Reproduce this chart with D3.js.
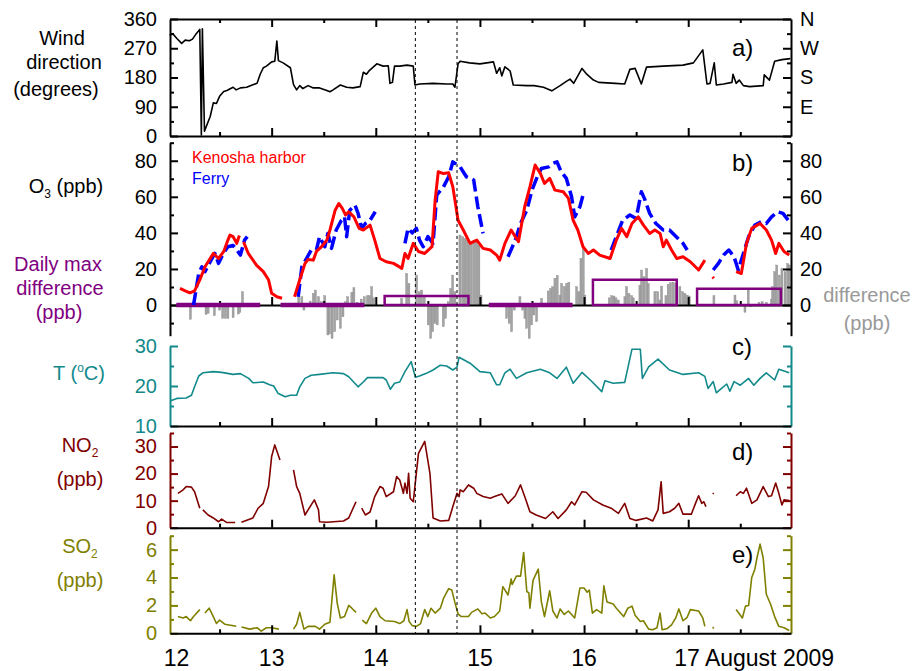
<!DOCTYPE html>
<html lang="en">
<head>
<meta charset="UTF-8">
<title>Kenosha O3, August 2009</title>
<script src="https://cdn.jsdelivr.net/npm/d3@7"></script>
<style>
    body { margin: 0; background: #fff; }
    svg text { font-family: "Liberation Sans", Arial, sans-serif; }
</style>
</head>
<body>
<div id="chart"></div>
<script>
// time in days of August 2009, null = gap in the record
const windDir = [[12.02,310],[12.05,315],[12.09,300],[12.136,285],[12.17,295],[12.21,293],[12.24,298],[12.27,312],[12.31,328],[12.325,3],[12.335,330],[12.355,15],[12.41,60],[12.44,102],[12.47,100],[12.50,122],[12.54,137],[12.57,140],[12.63,150],[12.66,142],[12.70,148],[12.76,150],[12.82,158],[12.86,162],[12.89,190],[12.92,210],[12.95,215],[13.0,228],[13.03,230],[13.05,292],[13.065,232],[13.11,225],[13.18,210],[13.21,158],[13.24,142],[13.27,155],[13.30,146],[13.35,155],[13.40,148],[13.46,148],[13.53,140],[13.56,136],[13.59,142],[13.66,157],[13.72,150],[13.78,148],[13.85,152],[13.88,196],[13.91,190],[13.94,202],[14.01,222],[14.07,215],[14.12,216],[14.136,162],[14.16,165],[14.18,215],[14.23,215],[14.30,218],[14.36,215],[14.376,157],[14.42,160],[14.55,162],[14.68,160],[14.74,160],[14.76,150],[14.79,222],[14.81,230],[14.90,225],[15.0,222],[15.13,228],[15.16,193],[15.19,210],[15.21,185],[15.24,213],[15.29,200],[15.32,157],[15.45,155],[15.52,155],[15.61,150],[15.69,139],[15.77,155],[15.83,168],[15.865,175],[15.90,162],[15.98,208],[16.02,192],[16.09,172],[16.14,165],[16.30,162],[16.39,160],[16.44,205],[16.49,208],[16.55,160],[16.60,212],[16.76,215],[16.95,218],[17.05,225],[17.14,265],[17.18,160],[17.21,162],[17.25,225],[17.27,157],[17.34,160],[17.42,165],[17.43,190],[17.46,162],[17.49,172],[17.53,155],[17.59,152],[17.72,155],[17.73,188],[17.78,172],[17.83,230],[17.90,235],[17.98,238]];

const o3Kenosha = [[12.12,9.2],[12.17,7.9],[12.215,6.8],[12.26,7.9],[12.31,13.9],[12.36,21.2],[12.39,24],[12.44,28.6],[12.49,25.8],[12.54,29.7],[12.58,36],[12.60,38.8],[12.63,37.9],[12.665,34.2],[12.69,38.5],[12.71,null],[12.73,35],[12.776,28.6],[12.856,22],[12.92,18.5],[12.97,14],[13.0,6.5],[13.05,4.6],[13.10,3.8],[13.15,null],[13.22,4.6],[13.27,14],[13.32,23],[13.35,25.3],[13.40,24.9],[13.43,29.7],[13.48,32.4],[13.53,36],[13.56,41.6],[13.61,52.6],[13.645,56.3],[13.68,53.5],[13.71,49.9],[13.74,51.7],[13.79,48.9],[13.84,42.5],[13.88,41.6],[13.945,44.3],[13.99,36],[14.04,25.8],[14.10,24],[14.17,23.1],[14.215,21.6],[14.25,20.3],[14.28,28.6],[14.31,25.8],[14.36,34.2],[14.41,29.7],[14.47,28.6],[14.54,32.4],[14.57,58.2],[14.60,73.9],[14.65,72.9],[14.70,73.3],[14.74,65.5],[14.79,47],[14.84,41.6],[14.905,34.2],[14.97,36],[15.03,31.4],[15.10,30.5],[15.16,27.7],[15.19,24.9],[15.24,34.2],[15.30,41.6],[15.37,35.1],[15.43,54.5],[15.48,65.5],[15.53,77.6],[15.58,73],[15.62,67.4],[15.67,70.2],[15.72,63.7],[15.80,62.8],[15.85,59.1],[15.895,47],[15.94,41.6],[15.99,32.3],[16.04,28.6],[16.09,30.5],[16.15,27.7],[16.25,25.8],[16.31,36],[16.36,42.5],[16.41,37.9],[16.46,45.2],[16.52,48.9],[16.57,44.3],[16.63,39.7],[16.68,41.6],[16.73,39.7],[16.76,32.3],[16.79,36],[16.84,30.5],[16.89,25.8],[16.95,26.8],[17.02,24],[17.10,19.4],[17.16,24.9],[17.18,null],[17.235,15.6],[17.245,14.8],[17.26,null],[17.46,18.5],[17.51,17.5],[17.56,34.2],[17.61,42.5],[17.69,45.2],[17.75,41.6],[17.80,36],[17.84,28.6],[17.87,34.2],[17.92,29.7],[17.97,27.7]];

const o3Ferry = [[12.25,0],[12.30,17.5],[12.33,21.2],[12.36,18.5],[12.41,24],[12.455,28.6],[12.49,23.1],[12.535,28.6],[12.58,32.3],[12.63,33],[12.66,31],[12.70,27.7],[12.74,36],[12.766,37.9],[12.8,null],[13.255,4.6],[13.29,21.2],[13.335,25.8],[13.38,30.5],[13.43,30.5],[13.46,37.9],[13.51,32.3],[13.54,39.7],[13.575,31.4],[13.62,41.6],[13.67,47],[13.70,48.9],[13.72,37.9],[13.75,52.6],[13.80,55.4],[13.83,50.8],[13.865,42.5],[13.90,45.2],[13.945,47],[13.995,51.7],[14.1,null],[14.28,34.2],[14.31,42.5],[14.35,40],[14.39,42.5],[14.42,36],[14.455,32.3],[14.50,37.9],[14.55,34.2],[14.585,61],[14.65,65.5],[14.70,71.1],[14.74,79.4],[14.81,76.6],[14.87,71.1],[14.94,69.3],[14.98,54.5],[15.03,39.7],[15.1,null],[15.27,26.8],[15.34,36],[15.39,45.2],[15.45,52.6],[15.50,63.7],[15.55,71.1],[15.59,75.7],[15.66,76.6],[15.70,78.5],[15.74,79.4],[15.78,73.9],[15.83,70.2],[15.88,60],[15.91,48.9],[15.96,54.5],[15.99,61],[16.1,null],[16.26,30.5],[16.31,37.9],[16.37,47],[16.44,49.9],[16.50,48],[16.55,62.8],[16.58,59],[16.63,50.8],[16.69,45.2],[16.76,41.6],[16.82,41.6],[16.885,37.9],[16.95,34.2],[16.99,30.5],[17.1,null],[17.24,19.4],[17.29,23.1],[17.34,27.7],[17.39,30.5],[17.44,26.8],[17.48,19.4],[17.53,28.6],[17.58,37.9],[17.64,44.3],[17.70,46.1],[17.75,45.2],[17.80,48.9],[17.86,51.7],[17.91,50.8],[17.96,47]];

// Kenosha minus ferry, grey bars
const diffTime = [12.22,12.25,12.37,12.39,12.45,12.50,12.53,12.555,12.58,12.63,12.68,12.695,12.72,
    13.26,13.29,13.31,13.37,13.40,13.42,13.45,13.48,13.51,13.54,13.555,13.58,13.605,13.63,13.66,13.685,13.71,13.73,13.77,13.79,13.82,13.86,13.89,13.92,13.94,13.96,13.98,
    14.248,14.296,14.318,14.392,14.417,14.44,14.465,14.504,14.527,14.546,14.568,14.59,14.648,14.67,14.696,14.719,14.738,14.76,14.808,14.834,14.856,14.878,14.897,14.92,14.945,14.968,14.99,15.01,
    15.256,15.281,15.304,15.33,15.384,15.41,15.432,15.448,15.473,15.496,15.518,15.544,15.592,15.656,15.679,15.698,15.72,15.742,15.768,15.784,15.81,15.832,15.854,15.928,15.95,15.97,15.992,16.008,
    16.242,16.265,16.287,16.306,16.328,16.392,16.408,16.43,16.456,16.472,16.536,16.552,16.575,16.6,16.616,16.68,16.706,16.728,16.744,16.786,16.808,16.831,16.856,16.882,16.92,16.946,16.968,16.99,17.01,
    17.247,17.449,17.465,17.545,17.576,17.6,17.68,17.71,17.75,17.80,17.81,17.83,17.85,17.875,17.90,17.93,17.955,17.97];
const diffValue = [-7.9,1.5,-5.2,-4.6,-5.9,-2.8,-7.4,-7.4,-7.4,-7,-5,-4,7.4,
    6.5,4.6,-2.8,2.2,6.5,8.3,4.6,1.8,5.2,-16.6,-16,-18.5,-14.8,-8.3,-12.9,-6.5,1.8,4.6,7,9.6,1.5,3.3,4.6,5.2,5.2,10.2,4,
    3.7,17.5,12,16.6,7.4,8.3,4.6,-11,-18.5,-14.8,-10.2,-11,-12,-7.4,1.8,9.2,16.6,7.4,38.8,37.9,36.9,36,33.2,35.1,36,36,33.2,5.5,
    -7.4,-10.2,-14.8,-2.8,4.6,-2.8,-7.4,-12.9,-18.5,-11,-5.5,-9.2,3.7,7.8,9.2,10.2,14.8,16.3,5.5,12,10.2,12,12.6,10.2,7.4,25.9,31.4,5.5,
    4,5.2,5,4,2.8,4.6,10.2,6.5,5.2,4,11,19.4,15.7,20.3,12,7.4,7.4,2.8,10.5,5.2,11.5,12.4,12.6,12,10.2,7.4,6.5,5.5,5,
    5.2,5.5,2.4,-4,8.3,-0.9,1.5,1.8,1.5,3.3,10.2,18.5,22.2,16.6,20.3,18.5,23,22.2];

const days = [12, 13, 14, 15, 16, 17];
const dailyMaxDiff = [0, 0, 5, 0, 14, 9];

const temperature = [[12.03,16.3],[12.09,16.9],[12.18,17],[12.23,17.7],[12.26,19.8],[12.30,22.5],[12.34,23.3],[12.44,23.6],[12.52,23.4],[12.63,22.9],[12.70,23.1],[12.78,21.9],[12.82,20.8],[12.92,21],[12.98,20.3],[13.02,20],[13.06,18.2],[13.13,17.3],[13.18,17.7],[13.24,17.7],[13.27,19.8],[13.32,21.9],[13.38,22.7],[13.46,22.9],[13.59,23.3],[13.69,23.1],[13.74,22.3],[13.83,19.8],[13.88,21],[13.92,22.1],[14.07,22.1],[14.10,21.5],[14.14,19.2],[14.18,20.7],[14.23,21],[14.28,23.6],[14.34,26.1],[14.38,22.2],[14.42,22.5],[14.48,23.1],[14.55,24],[14.62,25.2],[14.68,25],[14.74,24],[14.78,24.7],[14.80,27.2],[14.905,25.7],[15.0,23.6],[15.10,23.3],[15.16,20.3],[15.19,20.3],[15.24,23.3],[15.29,24.2],[15.35,21.9],[15.45,23.3],[15.58,24.2],[15.67,23.3],[15.74,21.9],[15.83,24.7],[15.895,20.7],[15.98,23.4],[16.06,21.5],[16.17,18.6],[16.20,21.3],[16.28,20.7],[16.39,20.9],[16.46,29.2],[16.54,29.2],[16.56,21.9],[16.62,24.8],[16.71,26.7],[16.82,24],[16.95,22.9],[17.10,23.3],[17.16,22.4],[17.19,19.4],[17.24,21.1],[17.27,18.3],[17.32,19.4],[17.37,20.5],[17.40,18.7],[17.44,21.1],[17.50,20.2],[17.58,21.9],[17.63,20.2],[17.69,21.9],[17.75,23.3],[17.83,21.5],[17.87,24.2],[17.97,23.3]];

const no2 = [[12.10,12.7],[12.15,14],[12.18,15.2],[12.23,15],[12.26,13.3],[12.31,7.2],[12.32,null],[12.34,6.6],[12.39,4.7],[12.44,3.6],[12.49,2.2],[12.52,3.2],[12.57,1.9],[12.65,1.9],[12.67,null],[12.71,2],[12.82,3.6],[12.87,7.2],[12.92,9],[12.97,15.2],[13.0,26.3],[13.03,30.6],[13.08,25],[13.09,null],[13.21,21.4],[13.24,15.2],[13.27,12.7],[13.32,4.7],[13.35,6.6],[13.41,10.3],[13.45,6.6],[13.46,2.2],[13.53,2],[13.69,2.5],[13.74,3.6],[13.81,9.6],[13.83,null],[13.865,7.2],[13.90,4.7],[13.945,5.8],[13.99,11.5],[14.04,15.2],[14.07,14.6],[14.10,11.5],[14.17,13.3],[14.20,18.9],[14.23,17.6],[14.265,12.7],[14.28,16.5],[14.30,12.7],[14.315,20.1],[14.33,10.9],[14.36,9.6],[14.41,27.5],[14.47,31.9],[14.52,20.1],[14.55,3.6],[14.62,2.5],[14.70,2.7],[14.74,7.8],[14.78,12.7],[14.80,11.5],[14.81,14],[14.84,13.3],[14.89,15.8],[14.94,14.6],[14.97,12.7],[15.03,11.5],[15.10,10.9],[15.14,11.5],[15.21,12.5],[15.27,9],[15.34,11.8],[15.39,15.8],[15.43,11.5],[15.48,5.9],[15.54,4.7],[15.63,3.4],[15.70,5.9],[15.75,3.4],[15.83,6.6],[15.88,9.6],[15.91,8.4],[15.98,13.3],[16.02,13.1],[16.09,10.3],[16.18,8.4],[16.26,7.2],[16.33,5.3],[16.39,9],[16.44,3.4],[16.50,2.7],[16.60,3.6],[16.66,2.5],[16.71,6.6],[16.74,17],[16.76,5.3],[16.82,5.9],[16.87,7.2],[16.91,9],[16.95,5],[17.03,5],[17.07,9],[17.10,11.8],[17.13,9],[17.15,9.6],[17.17,7.8],[17.18,null],[17.235,12.5],[17.245,12.8],[17.25,null],[17.46,11.8],[17.50,13.3],[17.53,12.7],[17.56,14.6],[17.61,9],[17.66,10.3],[17.72,15.2],[17.77,11.5],[17.80,11.8],[17.84,16.5],[17.87,12.7],[17.90,8.4],[17.92,10.3],[17.97,10]];

const so2 = [[12.10,1.2],[12.15,1.1],[12.18,1.2],[12.22,0.9],[12.25,1.2],[12.31,1.7],[12.33,null],[12.36,1.45],[12.40,1.8],[12.44,1.2],[12.47,0.7],[12.50,0.95],[12.55,0.65],[12.66,0.5],[12.68,null],[12.71,0.45],[12.79,0.3],[12.86,0.4],[12.90,0.15],[12.95,0.4],[13.0,0.4],[13.07,0.3],[13.10,null],[13.21,0.3],[13.24,0.65],[13.27,1.5],[13.31,0.3],[13.35,0.5],[13.42,0.5],[13.46,0.3],[13.51,0.65],[13.56,0.8],[13.60,4.2],[13.63,2.15],[13.66,1.1],[13.70,1.2],[13.74,2.0],[13.77,1.8],[13.81,1.5],[13.84,null],[13.87,0.95],[13.91,0.7],[13.96,1.45],[14.0,1.8],[14.04,1.2],[14.09,0.9],[14.18,0.85],[14.23,0.7],[14.27,0.9],[14.30,1.7],[14.32,0.85],[14.35,0.55],[14.39,0.5],[14.43,0.7],[14.47,1.7],[14.50,1.2],[14.53,1.8],[14.57,1.45],[14.62,1.8],[14.65,2.5],[14.70,3.2],[14.73,3.1],[14.76,2.2],[14.79,1.4],[14.82,1.2],[14.89,1.2],[14.92,1.5],[14.98,1.75],[15.02,1.4],[15.05,1.45],[15.10,1.1],[15.14,1.2],[15.19,1.6],[15.22,3.35],[15.27,2.75],[15.30,3.9],[15.31,3.5],[15.35,4.1],[15.39,4.1],[15.42,5.8],[15.45,3.0],[15.47,2.9],[15.48,1.8],[15.51,3.8],[15.56,4.6],[15.59,2.25],[15.62,1.2],[15.67,3.05],[15.70,1.6],[15.74,1.1],[15.77,1.75],[15.81,1.35],[15.85,1.6],[15.91,1.1],[15.96,3.25],[16.0,3.25],[16.03,2.95],[16.05,3.1],[16.08,1.45],[16.12,1.7],[16.17,1.45],[16.19,3.4],[16.22,2.25],[16.28,2.1],[16.31,1.8],[16.38,1.2],[16.42,1.8],[16.46,1.95],[16.49,1.3],[16.54,0.85],[16.57,0.9],[16.62,0.3],[16.66,0.25],[16.70,0.4],[16.73,1.45],[16.75,0.25],[16.80,0.35],[16.84,0.6],[16.88,1.1],[16.91,1.75],[16.95,0.9],[16.99,1.15],[17.02,1.7],[17.10,1.6],[17.14,1.1],[17.16,0.5],[17.18,null],[17.235,0.45],[17.245,0.35],[17.25,null],[17.46,1.7],[17.52,1.1],[17.55,1.95],[17.58,2.0],[17.61,4.0],[17.64,4.6],[17.66,5.4],[17.69,6.4],[17.72,5.4],[17.75,2.8],[17.79,2.1],[17.83,1.2],[17.87,0.5],[17.92,0.4],[17.97,0.2]];

const markedTimes = [14.38, 14.78];
const dayTicks = [13, 14, 15, 16, 17];
const halfDayTicks = [12.5, 13.5, 14.5, 15.5, 16.5, 17.5];
const compass = ["E", "S", "W", "N"];

const width = 916, height = 671;
const xL = 170, xR = 791;
const teal = "#12898b", maroon = "#800000", olive = "#808000", purple = "#800080";

const x = d3.scaleLinear().domain([12.024, 17.987]).range([xL, xR]);
const yWind = d3.scaleLinear().domain([0, 360]).range([136, 19]);
const yO3 = d3.scaleLinear().domain([-17, 90]).range([335.7, 142.7]);
const yT = d3.scaleLinear().domain([10, 30]).range([426, 346]);
const yNO2 = d3.scaleLinear().domain([0, 35]).range([527.7, 433]);
const ySO2 = d3.scaleLinear().domain([0, 7]).range([633.3, 535.7]);

const svg = d3.select("#chart").append("svg")
    .attr("width", width)
    .attr("height", height);

function styleAxis(g, color, size) {
    g.attr("font-family", "Liberation Sans, Arial, sans-serif")
        .attr("font-size", size || 20);
    g.selectAll("path.domain").attr("stroke", color).attr("stroke-width", 2);
    g.selectAll("line").attr("stroke", color).attr("stroke-width", 2);
    g.selectAll("text").attr("fill", color);
}

// left + right axes with inward ticks, major and minor
function yAxes(scale, majors, minors, color, leftFmt, rightFmt) {
    [[d3.axisLeft, xL, leftFmt], [d3.axisRight, xR, rightFmt]].forEach(([ax, tx, fmt]) => {
        svg.append("g")
            .attr("transform", `translate(${tx},0)`)
            .call(ax(scale).tickValues(minors).tickSize(-4).tickSizeOuter(0).tickFormat(""))
            .call(g => g.select(".domain").remove())
            .call(g => styleAxis(g, color));
        svg.append("g")
            .attr("transform", `translate(${tx},0)`)
            .call(ax(scale).tickValues(majors).tickSize(-8).tickSizeOuter(0)
                .tickPadding(tx === xL ? 13 : 9).tickFormat(fmt || ""))
            .call(g => styleAxis(g, color));
    });
}

// horizontal time axis with inward ticks, no labels
function xAxis(y, top) {
    const ax = top ? d3.axisTop : d3.axisBottom;
    svg.append("g")
        .attr("transform", `translate(0,${y})`)
        .call(ax(x).tickValues(halfDayTicks).tickSize(-4).tickSizeOuter(0).tickFormat(""))
        .call(g => g.select(".domain").remove())
        .call(g => styleAxis(g, "#000"));
    svg.append("g")
        .attr("transform", `translate(0,${y})`)
        .call(ax(x).tickValues(dayTicks).tickSize(-8).tickSizeOuter(0).tickFormat(""))
        .call(g => styleAxis(g, "#000"));
}

function drawLine(data, y, color, w, dash) {
    const line = d3.line()
        .defined(d => d[1] !== null)
        .x(d => x(d[0]))
        .y(d => y(d[1]));
    svg.append("path")
        .datum(data)
        .attr("fill", "none")
        .attr("stroke", color)
        .attr("stroke-width", w)
        .attr("stroke-linejoin", "round")
        .attr("stroke-dasharray", dash || null)
        .attr("d", line);
}

function label(txt, tx, ty, color, size, anchor) {
    return svg.append("text")
        .attr("x", tx).attr("y", ty)
        .attr("fill", color)
        .attr("font-size", size || 20)
        .attr("text-anchor", anchor || "middle")
        .text(txt);
}

function subLabel(main, sub, rest, tx, ty, color) {
    const t = label(main, tx, ty, color);
    t.append("tspan").attr("font-size", 12).attr("dy", 5).text(sub);
    if (rest) t.append("tspan").attr("dy", -5).text(rest);
}

// a) wind direction
drawLine(windDir, yWind, "#000", 1.6);
yAxes(yWind, [0, 90, 180, 270, 360], [45, 135, 225, 315], "#000",
    d => d, d => compass[d / 90 - 1] || "");
xAxis(19, true);
xAxis(136, false);

// b) ozone
svg.append("g").selectAll("rect")
    .data(diffTime)
    .join("rect")
    .attr("x", d => x(d) - 1)
    .attr("width", 2)
    .attr("y", (d, i) => yO3(Math.max(diffValue[i], 0)))
    .attr("height", (d, i) => Math.abs(yO3(diffValue[i]) - yO3(0)))
    .attr("fill", "#a3a3a3")
    .attr("stroke", "#8c8c8c")
    .attr("stroke-width", 0.4);
xAxis(yO3(0), false);
yAxes(yO3, [0, 20, 40, 60, 80], [-10, 10, 30, 50, 70, 90], "#000",
    d => d, d => d);

svg.append("g").selectAll("path")
    .data(days)
    .join("path")
    .attr("fill", "none")
    .attr("stroke", purple)
    .attr("stroke-width", (d, i) => dailyMaxDiff[i] > 0 ? 2.5 : 4.5)
    .attr("d", (d, i) => {
        const x0 = x(d + 0.085), x1 = x(d + 0.89), y0 = yO3(0), y1 = yO3(dailyMaxDiff[i]);
        return dailyMaxDiff[i] > 0
            ? `M${x0},${y0}V${y1}H${x1}V${y0}Z`
            : `M${x0},${y0}H${x1}`;
    });

drawLine(o3Ferry, yO3, "#0000ff", 3.5, "13,5");
drawLine(o3Kenosha, yO3, "#ff0000", 3);

// c) temperature
drawLine(temperature, yT, teal, 1.6);
yAxes(yT, [10, 20, 30], [15, 25], teal, d => d, null);
xAxis(426, false);

// d) NO2
drawLine(no2, yNO2, maroon, 1.6);
yAxes(yNO2, [0, 10, 20, 30], [5, 15, 25, 35], maroon, d => d, null);
xAxis(527.7, false);

// e) SO2
drawLine(so2, ySO2, olive, 1.6);
yAxes(ySO2, [0, 2, 4, 6], [1, 3, 5, 7], olive, d => d, null);
xAxis(633.3, false);

// marked period
svg.append("g").selectAll("line")
    .data(markedTimes)
    .join("line")
    .attr("x1", d => x(d)).attr("x2", d => x(d))
    .attr("y1", 20).attr("y2", 633)
    .attr("stroke", "#000")
    .attr("stroke-width", 1)
    .attr("stroke-dasharray", "3,3");

// day labels
days.forEach(d => {
    if (d === 17) {
        label("17 August 2009", x(d) - 14, 666, "#000", 23, "start");
    } else {
        label(d, x(d) + (d === 12 ? 9 : 0), 666, "#000", 23);
    }
});

// titles
label("Wind", 62, 44.5, "#000");
label("direction", 64, 69, "#000");
label("(degrees)", 56, 96, "#000");
subLabel("O", "3", " (ppb)", 66, 193, "#000");
label("Daily max", 58, 270.5, purple);
label("difference", 60, 295, purple);
label("(ppb)", 59, 319, purple);
label("difference", 867, 302, "#999");
label("(ppb)", 867, 330, "#999");

const tl = label("T (", 79, 380, teal);
tl.append("tspan").attr("font-size", 12).attr("dy", -8).text("o");
tl.append("tspan").attr("dy", 8).text("C)");
subLabel("NO", "2", "", 80, 452, maroon);
label("(ppb)", 80, 486, maroon);
subLabel("SO", "2", "", 80, 553, olive);
label("(ppb)", 80, 587, olive);

label("Kenosha harbor", 192, 163, "#ff0000", 16, "start");
label("Ferry", 192, 183.5, "#0000ff", 16, "start");

[["a)", 56], ["b)", 171], ["c)", 355], ["d)", 460], ["e)", 563]].forEach(([t, ty]) => {
    label(t, 732, ty, "#000", 24, "start");
});
</script>
</body>
</html>
